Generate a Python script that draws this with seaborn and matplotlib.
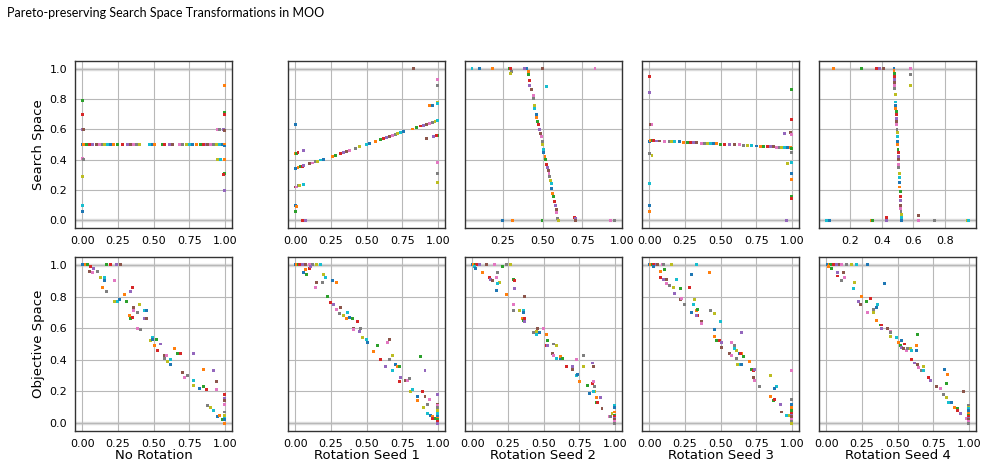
import numpy as np
import pandas as pd
import matplotlib
matplotlib.use('Agg')
import matplotlib.pyplot as plt
import seaborn as sns

title = 'Pareto-preserving Search Space Transformations in MOO'
column_labels = ['No Rotation', 'Rotation Seed 1', 'Rotation Seed 2', 'Rotation Seed 3', 'Rotation Seed 4']
row_labels = ['Search Space', 'Objective Space']

# search space (x1, x2) per transformation
search_none = [(0.0, 0.5), (0.01, 0.5), (0.03, 0.5), (0.05, 0.5), (0.07, 0.5), (0.1, 0.5), (0.12, 0.5),
               (0.14, 0.5), (0.16, 0.5), (0.18, 0.5), (0.2, 0.5), (0.22, 0.5), (0.25, 0.5), (0.28, 0.5),
               (0.32, 0.5), (0.34, 0.5), (0.36, 0.5), (0.38, 0.5), (0.4, 0.5), (0.47, 0.5), (0.49, 0.5),
               (0.51, 0.5), (0.56, 0.5), (0.58, 0.5), (0.61, 0.5), (0.63, 0.5), (0.68, 0.5), (0.7, 0.5),
               (0.73, 0.5), (0.75, 0.5), (0.77, 0.5), (0.8, 0.5), (0.83, 0.5), (0.85, 0.5), (0.87, 0.5),
               (0.88, 0.5), (0.9, 0.5), (0.92, 0.5), (0.94, 0.5), (0.96, 0.5), (0.98, 0.5), (1.0, 0.5),
               (0.0, 0.79), (0.0, 0.7), (0.0, 0.6), (0.01, 0.6), (0.0, 0.41), (0.01, 0.4), (0.0, 0.29),
               (0.0, 0.1), (0.0, 0.06), (1.0, 0.89), (1.0, 0.71), (1.0, 0.7), (0.99, 0.6), (1.0, 0.59),
               (0.95, 0.6), (0.96, 0.6), (0.95, 0.4), (0.97, 0.4), (1.0, 0.49), (1.0, 0.4), (1.0, 0.31),
               (0.99, 0.3), (1.0, 0.2)]
search_seed1 = [(0.0, 0.34), (0.02, 0.346), (0.04, 0.353), (0.05, 0.356), (0.06, 0.359), (0.1, 0.372),
                (0.12, 0.378), (0.14, 0.385), (0.16, 0.391), (0.18, 0.398), (0.2, 0.404), (0.26, 0.423),
                (0.28, 0.43), (0.32, 0.442), (0.34, 0.449), (0.36, 0.455), (0.38, 0.462), (0.42, 0.474),
                (0.45, 0.484), (0.5, 0.5), (0.52, 0.506), (0.56, 0.519), (0.6, 0.532), (0.62, 0.538),
                (0.64, 0.545), (0.66, 0.551), (0.68, 0.558), (0.7, 0.564), (0.72, 0.57), (0.74, 0.577),
                (0.76, 0.583), (0.82, 0.602), (0.85, 0.612), (0.88, 0.622), (0.9, 0.628), (0.92, 0.634),
                (0.94, 0.641), (0.96, 0.647), (0.98, 0.654), (1.0, 0.66),
                (0.0, 0.63), (0.0, 0.44), (0.01, 0.44), (0.02, 0.45), (0.06, 0.46), (0.0, 0.22),
                (0.01, 0.22), (0.02, 0.23), (0.03, 0.23), (0.06, 0.235), (0.0, 0.1), (0.01, 0.09),
                (0.0, 0.06), (0.05, 0.0), (0.07, 0.0), (0.83, 1.0), (1.0, 0.93), (1.0, 0.89), (1.0, 0.78),
                (1.0, 0.77), (0.96, 0.76), (0.94, 0.76), (1.0, 0.56), (0.99, 0.56), (0.97, 0.55),
                (0.92, 0.54), (1.0, 0.38), (1.0, 0.31), (1.0, 0.25)]
search_seed2 = [(0.4, 1.0), (0.41, 0.98), (0.41, 0.96), (0.42, 0.92), (0.42, 0.89), (0.43, 0.86), (0.44, 0.82),
                (0.44, 0.8), (0.45, 0.76), (0.45, 0.74), (0.46, 0.7), (0.46, 0.68), (0.47, 0.65),
                (0.475, 0.63), (0.48, 0.6), (0.487, 0.57), (0.49, 0.55), (0.5, 0.52), (0.5, 0.5),
                (0.505, 0.47), (0.508, 0.45), (0.515, 0.42), (0.52, 0.4), (0.525, 0.37), (0.53, 0.35),
                (0.535, 0.33), (0.54, 0.31), (0.544, 0.29), (0.55, 0.26), (0.553, 0.24), (0.558, 0.21),
                (0.565, 0.18), (0.57, 0.16), (0.575, 0.125), (0.58, 0.1), (0.586, 0.07), (0.59, 0.05),
                (0.595, 0.01), (0.6, 0.0),
                (0.055, 1.0), (0.105, 1.0), (0.187, 1.0), (0.29, 1.0), (0.296, 1.0), (0.385, 1.0),
                (0.5, 1.0), (0.83, 1.0), (0.305, 0.98), (0.3, 0.97), (0.523, 0.88), (0.246, 0.0),
                (0.31, 0.0), (0.496, 0.0), (0.7, 0.02), (0.705, 0.01), (0.705, 0.0), (0.93, 0.0),
                (0.95, 0.0)]
search_seed3 = [(0.0, 0.52), (0.01, 0.525), (0.02, 0.526), (0.03, 0.524), (0.05, 0.523), (0.07, 0.523),
                (0.11, 0.522), (0.14, 0.52), (0.16, 0.519), (0.18, 0.518), (0.21, 0.517), (0.24, 0.515),
                (0.27, 0.514), (0.29, 0.513), (0.31, 0.512), (0.33, 0.511), (0.37, 0.509), (0.39, 0.508),
                (0.41, 0.507), (0.43, 0.506), (0.45, 0.505), (0.47, 0.504), (0.5, 0.503), (0.53, 0.501),
                (0.56, 0.5), (0.6, 0.498), (0.63, 0.497), (0.66, 0.495), (0.69, 0.494), (0.72, 0.492),
                (0.75, 0.49), (0.78, 0.489), (0.8, 0.488), (0.83, 0.486), (0.85, 0.485), (0.87, 0.484),
                (0.89, 0.483), (0.91, 0.482), (0.93, 0.481), (0.95, 0.48), (0.97, 0.479), (0.99, 0.478),
                (1.0, 0.476),
                (0.0, 0.95), (0.0, 0.84), (0.01, 0.63), (0.02, 0.63), (0.0, 0.44), (0.02, 0.43),
                (0.0, 0.24), (0.0, 0.1), (0.0, 0.06), (1.0, 0.86), (1.0, 0.665), (0.95, 0.575),
                (0.99, 0.58), (1.0, 0.565), (1.0, 0.45), (0.97, 0.375), (1.0, 0.38), (1.0, 0.31),
                (1.0, 0.27), (1.0, 0.16), (1.0, 0.145), (0.96, 0.0)]
search_seed4 = [(0.478, 1.0), (0.478, 0.99), (0.479, 0.97), (0.48, 0.95), (0.481, 0.93), (0.482, 0.91),
                (0.483, 0.89), (0.484, 0.87), (0.486, 0.83), (0.488, 0.78), (0.489, 0.76), (0.49, 0.74),
                (0.491, 0.72), (0.492, 0.7), (0.494, 0.67), (0.494, 0.65), (0.495, 0.63), (0.497, 0.6),
                (0.498, 0.58), (0.499, 0.55), (0.501, 0.52), (0.502, 0.5), (0.503, 0.47), (0.504, 0.45),
                (0.505, 0.42), (0.506, 0.4), (0.508, 0.37), (0.509, 0.35), (0.51, 0.31), (0.512, 0.28),
                (0.513, 0.25), (0.515, 0.22), (0.516, 0.19), (0.517, 0.16), (0.519, 0.13), (0.52, 0.1),
                (0.521, 0.08), (0.522, 0.06), (0.523, 0.04), (0.524, 0.02), (0.525, 0.0),
                (0.095, 1.0), (0.27, 1.0), (0.37, 1.0), (0.385, 1.0), (0.41, 1.0), (0.58, 1.0),
                (0.58, 0.96), (0.58, 0.89), (0.05, 0.0), (0.07, 0.0), (0.335, 0.0), (0.34, 0.0),
                (0.43, 0.02), (0.43, 0.0), (0.63, 0.03), (0.63, 0.0), (0.735, 0.0), (0.94, 0.0),
                (0.95, 0.0)]

# objective space (f1, f2) per transformation
objective_none = [(0.0, 1.0), (0.02, 1.0), (0.04, 1.0), (0.06, 0.99), (0.08, 0.98), (0.05, 0.96), (0.07, 0.95),
                  (0.11, 0.96), (0.13, 0.92), (0.16, 0.92), (0.16, 0.9), (0.14, 0.86), (0.17, 1.0), (0.2, 1.0),
                  (0.24, 1.0), (0.27, 1.0), (0.23, 0.9), (0.17, 0.83), (0.23, 0.77), (0.25, 0.77),
                  (0.26, 0.78), (0.3, 0.81), (0.31, 0.77), (0.35, 0.86), (0.34, 0.83), (0.36, 0.73),
                  (0.36, 0.71), (0.39, 0.7), (0.4, 0.75), (0.44, 0.71), (0.45, 0.71), (0.33, 0.68),
                  (0.34, 0.66), (0.35, 0.67), (0.44, 0.66), (0.45, 0.66), (0.39, 0.6), (0.41, 0.59),
                  (0.48, 0.52), (0.49, 0.54), (0.49, 0.53), (0.51, 0.49), (0.52, 0.53), (0.53, 0.46),
                  (0.55, 0.5), (0.58, 0.43), (0.59, 0.43), (0.58, 0.41), (0.6, 0.39), (0.62, 0.4),
                  (0.62, 0.37), (0.65, 0.47), (0.67, 0.44), (0.69, 0.44), (0.78, 0.44), (0.7, 0.32),
                  (0.72, 0.29), (0.74, 0.3), (0.78, 0.24), (0.78, 0.27), (0.82, 0.22), (0.85, 0.34),
                  (0.85, 0.23), (0.87, 0.21), (0.92, 0.33), (0.94, 0.26), (0.94, 0.21), (0.88, 0.11),
                  (0.9, 0.1), (0.92, 0.08), (0.95, 0.04), (0.96, 0.05), (0.98, 0.02), (1.0, 0.18),
                  (1.0, 0.155), (1.0, 0.145), (1.0, 0.115), (1.0, 0.07), (1.0, 0.05), (1.0, 0.03),
                  (1.0, 0.02), (1.0, 0.0)]
objective_seed1 = [(0.0, 1.0), (0.01, 1.0), (0.02, 1.0), (0.03, 1.0), (0.05, 1.0), (0.07, 1.0), (0.1, 1.0),
                   (0.12, 1.0), (0.15, 1.0), (0.18, 1.0), (0.06, 0.95), (0.07, 0.97), (0.08, 0.94),
                   (0.1, 0.98), (0.11, 0.99), (0.15, 0.89), (0.14, 0.86), (0.19, 0.89), (0.2, 0.94),
                   (0.21, 0.92), (0.26, 0.9), (0.29, 0.89), (0.23, 0.8), (0.25, 0.76), (0.27, 0.75),
                   (0.32, 0.73), (0.29, 0.72), (0.31, 0.69), (0.34, 0.68), (0.37, 0.7), (0.38, 0.67),
                   (0.36, 0.66), (0.4, 0.66), (0.44, 0.64), (0.45, 0.58), (0.41, 0.6), (0.41, 0.59),
                   (0.46, 0.6), (0.47, 0.54), (0.5, 0.53), (0.51, 0.51), (0.55, 0.45), (0.58, 0.49),
                   (0.6, 0.4), (0.63, 0.36), (0.66, 0.53), (0.65, 0.51), (0.66, 0.4), (0.68, 0.43),
                   (0.68, 0.33), (0.7, 0.37), (0.72, 0.36), (0.73, 0.36), (0.73, 0.26), (0.74, 0.29),
                   (0.77, 0.27), (0.79, 0.27), (0.8, 0.28), (0.81, 0.2), (0.82, 0.21), (0.86, 0.17),
                   (0.86, 0.14), (0.88, 0.42), (0.89, 0.2), (0.91, 0.33), (0.91, 0.17), (0.94, 0.15),
                   (0.93, 0.12), (0.9, 0.1), (0.93, 0.06), (0.95, 0.05), (0.96, 0.04), (0.98, 0.03),
                   (0.96, 0.03), (1.0, 0.18), (1.0, 0.12), (1.0, 0.11), (1.0, 0.1), (1.0, 0.08),
                   (1.0, 0.06), (1.0, 0.04), (1.0, 0.03), (1.0, 0.02), (1.0, 0.01), (1.0, 0.0)]
objective_seed2 = [(0.0, 1.0), (0.01, 1.0), (0.02, 1.0), (0.03, 1.0), (0.05, 1.0), (0.1, 1.0), (0.16, 1.0),
                   (0.24, 1.0), (0.27, 1.0), (0.015, 0.99), (0.025, 0.98), (0.07, 0.95), (0.21, 0.99),
                   (0.12, 0.92), (0.13, 0.91), (0.14, 0.9), (0.17, 0.92), (0.18, 0.95), (0.19, 0.89),
                   (0.18, 0.88), (0.17, 0.84), (0.24, 0.81), (0.29, 0.91), (0.3, 0.9), (0.3, 0.85),
                   (0.37, 0.8), (0.29, 0.75), (0.29, 0.71), (0.33, 0.71), (0.36, 0.71), (0.36, 0.7),
                   (0.35, 0.66), (0.36, 0.65), (0.37, 0.66), (0.37, 0.64), (0.46, 0.6), (0.5, 0.6),
                   (0.43, 0.57), (0.45, 0.58), (0.45, 0.56), (0.47, 0.57), (0.52, 0.56), (0.53, 0.52),
                   (0.52, 0.49), (0.53, 0.49), (0.56, 0.44), (0.57, 0.43), (0.57, 0.5), (0.59, 0.49),
                   (0.59, 0.41), (0.62, 0.41), (0.62, 0.42), (0.63, 0.41), (0.66, 0.36), (0.7, 0.36),
                   (0.7, 0.34), (0.73, 0.4), (0.78, 0.43), (0.78, 0.36), (0.73, 0.3), (0.74, 0.31),
                   (0.75, 0.26), (0.81, 0.24), (0.84, 0.25), (0.84, 0.38), (0.85, 0.36), (0.85, 0.26),
                   (0.86, 0.23), (0.86, 0.2), (0.85, 0.2), (0.82, 0.19), (0.87, 0.16), (0.87, 0.13),
                   (0.88, 0.13), (0.9, 0.16), (0.91, 0.09), (0.96, 0.04), (0.97, 0.04), (0.98, 0.06),
                   (1.0, 0.11), (1.0, 0.1), (1.0, 0.07), (1.0, 0.05), (1.0, 0.04), (1.0, 0.03),
                   (1.0, 0.02), (1.0, 0.01), (1.0, 0.0)]
objective_seed3 = [(0.0, 1.0), (0.01, 1.0), (0.02, 1.0), (0.03, 1.0), (0.05, 1.0), (0.06, 1.0), (0.09, 1.0),
                   (0.1, 1.0), (0.16, 1.0), (0.33, 1.0), (0.03, 0.99), (0.08, 0.96), (0.11, 0.97),
                   (0.08, 0.92), (0.1, 0.91), (0.12, 0.91), (0.12, 0.88), (0.14, 0.87), (0.17, 0.86),
                   (0.19, 0.91), (0.3, 0.94), (0.42, 0.95), (0.22, 0.85), (0.28, 0.86), (0.18, 0.82),
                   (0.22, 0.78), (0.23, 0.79), (0.25, 0.75), (0.32, 0.78), (0.31, 0.75), (0.3, 0.7),
                   (0.33, 0.71), (0.34, 0.72), (0.34, 0.68), (0.33, 0.68), (0.37, 0.64), (0.37, 0.63),
                   (0.43, 0.71), (0.46, 0.69), (0.5, 0.64), (0.46, 0.59), (0.46, 0.55), (0.47, 0.52),
                   (0.49, 0.52), (0.51, 0.51), (0.51, 0.48), (0.58, 0.51), (0.6, 0.49), (0.61, 0.46),
                   (0.6, 0.47), (0.63, 0.44), (0.65, 0.44), (0.66, 0.42), (0.64, 0.44), (0.65, 0.57),
                   (0.56, 0.44), (0.58, 0.43), (0.61, 0.41), (0.62, 0.37), (0.64, 0.37), (0.65, 0.37),
                   (0.7, 0.39), (0.72, 0.34), (0.73, 0.33), (0.74, 0.34), (0.73, 0.29), (0.74, 0.27),
                   (0.77, 0.23), (0.85, 0.3), (0.89, 0.23), (0.88, 0.22), (0.85, 0.17), (0.87, 0.14),
                   (0.88, 0.15), (0.92, 0.12), (0.93, 0.07), (1.0, 0.33), (1.0, 0.15), (0.98, 0.05),
                   (0.96, 0.05), (1.0, 0.12), (1.0, 0.1), (1.0, 0.08), (1.0, 0.06), (1.0, 0.05),
                   (1.0, 0.04), (1.0, 0.02), (1.0, 0.01), (1.0, 0.0)]
objective_seed4 = [(0.01, 1.0), (0.02, 1.0), (0.03, 1.0), (0.05, 1.0), (0.07, 1.0), (0.09, 1.0), (0.11, 1.0),
                   (0.14, 1.0), (0.18, 1.0), (0.21, 1.0), (0.29, 1.0), (0.015, 0.99), (0.04, 0.98),
                   (0.08, 0.93), (0.08, 0.95), (0.12, 0.95), (0.13, 0.92), (0.11, 0.9), (0.2, 0.89),
                   (0.19, 0.85), (0.41, 0.88), (0.25, 0.8), (0.28, 0.77), (0.31, 0.79), (0.23, 0.77),
                   (0.24, 0.75), (0.29, 0.7), (0.33, 0.72), (0.33, 0.7), (0.36, 0.75), (0.35, 0.73),
                   (0.35, 0.65), (0.38, 0.62), (0.39, 0.62), (0.39, 0.6), (0.43, 0.6), (0.45, 0.58),
                   (0.45, 0.57), (0.45, 0.55), (0.49, 0.54), (0.53, 0.52), (0.51, 0.51), (0.52, 0.49),
                   (0.55, 0.5), (0.53, 0.48), (0.54, 0.47), (0.56, 0.46), (0.57, 0.47), (0.59, 0.47),
                   (0.6, 0.46), (0.63, 0.46), (0.63, 0.49), (0.64, 0.56), (0.6, 0.4), (0.62, 0.38),
                   (0.64, 0.37), (0.65, 0.35), (0.67, 0.33), (0.68, 0.36), (0.68, 0.33), (0.83, 0.34),
                   (0.85, 0.31), (0.84, 0.25), (0.72, 0.29), (0.73, 0.27), (0.77, 0.23), (0.8, 0.22),
                   (0.82, 0.18), (0.84, 0.16), (0.86, 0.13), (0.88, 0.13), (0.9, 0.1), (0.92, 0.09),
                   (0.92, 0.08), (0.94, 0.06), (0.96, 0.2), (0.98, 0.03), (1.0, 0.11), (1.0, 0.1),
                   (1.0, 0.09), (1.0, 0.08), (1.0, 0.06), (1.0, 0.05), (1.0, 0.04), (1.0, 0.03),
                   (1.0, 0.02), (1.0, 0.01), (1.0, 0.0)]

search_sets = [search_none, search_seed1, search_seed2, search_seed3, search_seed4]
objective_sets = [objective_none, objective_seed1, objective_seed2, objective_seed3, objective_seed4]

# x ticks of the search-space row differ per panel
search_xticks = [[0.0, 0.25, 0.5, 0.75, 1.0], [0.0, 0.25, 0.5, 0.75, 1.0], [0.25, 0.5, 0.75, 1.0],
                 [0.0, 0.25, 0.5, 0.75, 1.0], [0.2, 0.4, 0.6, 0.8]]
search_xlims = [(-0.05, 1.05), (-0.05, 1.05), (0.011, 1.0), (-0.05, 1.05), (0.004, 0.996)]

sns.set_style('white')
plt.rcParams['font.family'] = ['DejaVu Sans']
plt.rcParams['text.color'] = 'black'
plt.rcParams['axes.labelcolor'] = 'black'
palette = sns.color_palette('tab10')

fig = plt.figure(figsize=(9.86, 4.63), dpi=100)
W, H = 986, 463
lefts = [75, 288, 465, 642, 819]
width = 157
row_bounds = [(61, 228), (257, 431)]


def draw_panel(ax, points):
    df = pd.DataFrame(points, columns=['x', 'y'])
    df['c'] = [str(i % 10) for i in range(len(df))]
    ax.axhline(0, color='#dedede', lw=2.5, zorder=0)
    ax.axhline(1, color='#dedede', lw=2.5, zorder=0)
    sns.scatterplot(data=df, x='x', y='y', hue='c', hue_order=[str(i) for i in range(10)],
                    palette=palette, marker='s', s=4.5, linewidth=0, legend=False, ax=ax, zorder=3)
    ax.grid(True, color='#b8b8b8', lw=0.8)
    ax.set_axisbelow(True)
    ax.set_xlabel('')
    ax.set_ylabel('')
    ax.tick_params(labelsize=8, length=3.5, width=0.8, pad=2, color='#333333', labelcolor='black')
    for sp in ax.spines.values():
        sp.set_color('#333333')
        sp.set_linewidth(1.0)


for r, (top, bottom) in enumerate(row_bounds):
    data_sets = search_sets if r == 0 else objective_sets
    first = None
    for c in range(5):
        rect = [lefts[c] / W, 1 - bottom / H, width / W, (bottom - top) / H]
        if c >= 2 and first is not None:
            ax = fig.add_axes(rect, sharey=first)
        else:
            ax = fig.add_axes(rect)
        if c == 1:
            first = ax
        draw_panel(ax, data_sets[c])
        ax.set_ylim(-0.05, 1.05)
        ax.set_yticks([0.0, 0.2, 0.4, 0.6, 0.8, 1.0])
        if c == 0:
            ax.set_ylabel(row_labels[r], fontsize=9.5, labelpad=3)
        else:
            ax.tick_params(labelleft=False)
        if r == 0:
            ax.set_xticks(search_xticks[c])
            ax.set_xlim(*search_xlims[c])
        else:
            ax.set_xticks([0.0, 0.25, 0.5, 0.75, 1.0])
            ax.set_xlim(-0.05, 1.05)
            ax.set_xlabel(column_labels[c], fontsize=9.5, labelpad=0)

fig.text(0.007, 0.972, title, fontsize=9, family=['Lato', 'DejaVu Sans'], va='center', ha='left')

fig.savefig('out.png', dpi=100)
